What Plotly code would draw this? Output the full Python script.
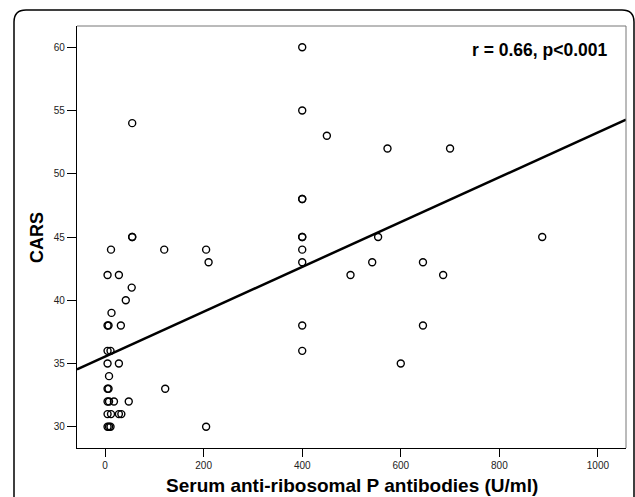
import plotly.graph_objects as go

# ---- data ----
antibodies = [
    5, 8, 11,            # CARS 30
    205,
    5, 12, 28, 33,       # 31
    5, 8, 18, 48,        # 32
    5, 7, 122,           # 33
    8,                   # 34
    5, 28, 600,          # 35
    5, 11, 400,          # 36
    5, 7, 32, 400, 645,  # 38
    13,                  # 39
    42,                  # 40
    54,                  # 41
    5, 28, 498, 686,     # 42
    210, 400, 542, 645,  # 43
    12, 120, 205, 400,   # 44
    55, 55, 400, 400, 554, 887,  # 45
    400, 400,            # 48
    573, 700,            # 52
    450,                 # 53
    55,                  # 54
    400,                 # 55
    400,                 # 60
]
cars = [
    30, 30, 30,
    30,
    31, 31, 31, 31,
    32, 32, 32, 32,
    33, 33, 33,
    34,
    35, 35, 35,
    36, 36, 36,
    38, 38, 38, 38, 38,
    39,
    40,
    41,
    42, 42, 42, 42,
    43, 43, 43, 43,
    44, 44, 44, 44,
    45, 45, 45, 45, 45, 45,
    48, 48,
    52, 52,
    53,
    54,
    55,
    60,
]

fit_intercept = 35.55
fit_slope = 0.01772

x_ticks = [0, 200, 400, 600, 800, 1000]
y_ticks = [30, 35, 40, 45, 50, 55, 60]
x_range = [-57, 1057]
y_range = [28.32, 61.68]

x_title = "Serum anti-ribosomal P antibodies (U/ml)"
y_title = "CARS"
stat_text = "r = 0.66, p<0.001"

W, H = 635, 497
L, R, T, B = 77, 9, 26, 49
PW, PH = W - L - R, H - T - B


def px_x(p):
    return (p - L) / PW


def px_y(p):
    return (H - B - p) / PH


fig = go.Figure()

fig.add_trace(go.Scatter(
    x=antibodies, y=cars, mode="markers",
    marker=dict(symbol="circle-open", size=7, color="black",
                line=dict(width=1.4, color="black")),
    showlegend=False, cliponaxis=False,
))

fit_x = list(x_range)
fit_y = [fit_intercept + fit_slope * v for v in fit_x]
fig.add_trace(go.Scatter(
    x=fit_x, y=fit_y, mode="lines",
    line=dict(color="black", width=2.5),
    showlegend=False,
))

tick_font = dict(family="Liberation Sans Narrow, Arial, Liberation Sans, sans-serif",
                 size=10, color="#222")

fig.update_xaxes(
    range=x_range, tickvals=x_ticks, ticktext=[str(v) for v in x_ticks],
    showgrid=False, zeroline=False, showline=True, linecolor="black", linewidth=1.2,
    ticks="outside", ticklen=8, tickcolor="black", tickwidth=1.2,
    tickfont=tick_font, automargin=False,
)
fig.update_yaxes(
    range=y_range, tickvals=y_ticks, ticktext=[str(v) for v in y_ticks],
    showgrid=False, zeroline=False, showline=True, linecolor="black", linewidth=1.2,
    ticks="outside", ticklen=9, tickcolor="black", tickwidth=1.2,
    tickfont=tick_font, automargin=False,
)

# top / right plot border (grey)
fig.add_shape(type="line", xref="paper", yref="paper", x0=0, x1=1, y0=1, y1=1,
              line=dict(color="#777", width=1))
fig.add_shape(type="line", xref="paper", yref="paper", x0=1, x1=1, y0=0, y1=1,
              line=dict(color="#777", width=1))

# outer rounded frame
fx0, fx1 = px_x(14), px_x(634)
fyt, fyb = px_y(10), px_y(505)
rx, ry = 12 / PW, 12 / PH
path = (f"M {fx0},{fyb} L {fx0},{fyt - ry} Q {fx0},{fyt} {fx0 + rx},{fyt} "
        f"L {fx1 - rx},{fyt} Q {fx1},{fyt} {fx1},{fyt - ry} L {fx1},{fyb}")
fig.add_shape(type="path", xref="paper", yref="paper", path=path,
              line=dict(color="black", width=1.5))

fig.add_annotation(text=f"<b>{x_title}</b>", xref="paper", yref="paper",
                   x=0.5, y=px_y(486), showarrow=False,
                   font=dict(family="Arial, Liberation Sans, sans-serif", size=19, color="black"),
                   xanchor="center", yanchor="middle")
fig.add_annotation(text=f"<b>{y_title}</b>", xref="paper", yref="paper",
                   x=px_x(37), y=0.5, showarrow=False,
                   font=dict(family="Arial, Liberation Sans, sans-serif", size=18, color="black"),
                   textangle=-90, xanchor="center", yanchor="middle")
fig.add_annotation(text=f"<b>{stat_text}</b>", xref="paper", yref="paper",
                   x=px_x(540), y=px_y(50), showarrow=False,
                   font=dict(family="Arial, Liberation Sans, sans-serif", size=17.5, color="black"),
                   xanchor="center", yanchor="middle")

fig.update_layout(
    width=W, height=H,
    margin=dict(l=L, r=R, t=T, b=B, autoexpand=False),
    paper_bgcolor="white", plot_bgcolor="white",
)

fig.write_html(
    "out.html",
    config={"displayModeBar": False},
    post_script="document.body.style.margin='0';document.body.style.overflow='hidden';",
)
